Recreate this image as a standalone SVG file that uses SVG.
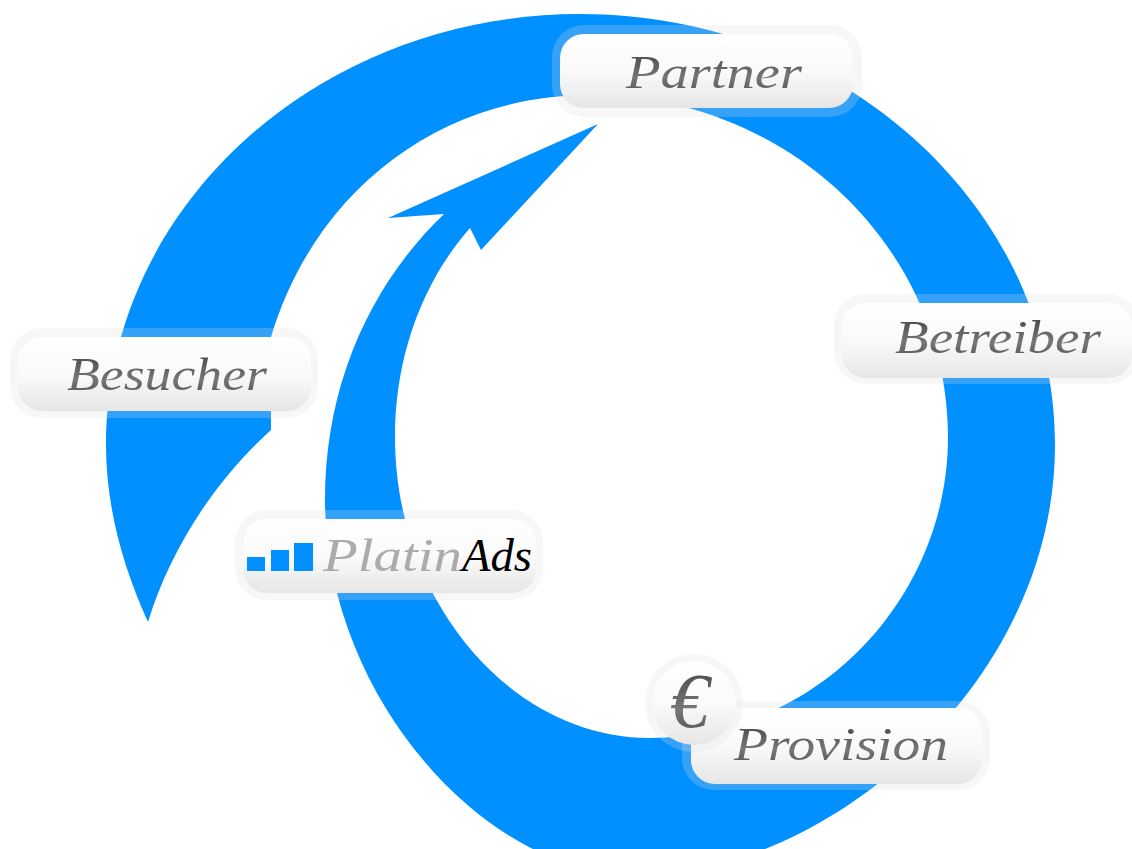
<svg xmlns="http://www.w3.org/2000/svg" width="1132" height="849" viewBox="0 0 1132 849">
<defs>
<linearGradient id="btn" x1="0" y1="0" x2="0" y2="1"><stop offset="0" stop-color="#ffffff"/><stop offset="0.5" stop-color="#fafafa"/><stop offset="1" stop-color="#e6e6e6"/></linearGradient>
<linearGradient id="ink" x1="0" y1="0" x2="0" y2="1"><stop offset="0" stop-color="#3f3f3f"/><stop offset="0.6" stop-color="#777777"/><stop offset="1" stop-color="#4a4a4a"/></linearGradient>
</defs>
<style>
.halo{fill:#dfdfdf;fill-opacity:.24}
.face{fill:url(#btn)}
.label{font-family:"Liberation Serif","Times New Roman",serif;font-style:italic;font-size:46px;fill:url(#ink)}
.logo{font-family:"Liberation Serif","Times New Roman",serif;font-style:italic;font-size:46px}
.euro{font-size:78px}
.bar{fill:#0090ff}
</style>
<g id="connectors">
<path id="cycle-arrow" fill="#0090ff" d="M148,622 C122,565 106,505 106,445 C106,207 318,14 580,14 C842,14 1055,207 1055,445 C1055,683 830,872 640,876 C480,876 325,690 325,500 C325,385 370,285 444,214 L388,218 L598,124 L481,250 L470,228 C420,285 395,360 395,437 C395,600 510,738 650,738 C815,738 948,600 948,437 C948,250 790,95 590,95 C440,95 315,190 271,337 L271,430 C215,480 170,550 148,622 Z"/>
</g>
<g id="node-partner">
<rect class="halo" x="552" y="25" width="310" height="92" rx="32"/>
<rect class="face" x="560" y="34" width="293" height="74" rx="24"/>
<text class="label" x="626" y="88" textLength="176" lengthAdjust="spacingAndGlyphs">Partner</text>
</g>
<g id="node-betreiber">
<rect class="halo" x="834" y="294" width="306" height="90" rx="32"/>
<rect class="face" x="842" y="303" width="290" height="75" rx="24"/>
<text class="label" x="895" y="353" textLength="206" lengthAdjust="spacingAndGlyphs">Betreiber</text>
</g>
<g id="node-besucher">
<rect class="halo" x="10" y="328" width="308" height="90" rx="32"/>
<rect class="face" x="18" y="337" width="293" height="74" rx="24"/>
<text class="label" x="67" y="390" textLength="200" lengthAdjust="spacingAndGlyphs">Besucher</text>
</g>
<g id="node-platinads">
<rect class="halo" x="235" y="510" width="308" height="90" rx="32"/>
<rect class="face" x="243" y="519" width="293" height="74" rx="24"/>
<rect class="bar" x="247" y="557" width="18" height="14"/>
<rect class="bar" x="271" y="550" width="18" height="21"/>
<rect class="bar" x="294" y="543" width="19" height="28"/>
<text class="logo" x="323" y="571" fill="#ababab" textLength="139" lengthAdjust="spacingAndGlyphs">Platin</text>
<text class="logo" x="462" y="571" fill="#000000" textLength="70" lengthAdjust="spacingAndGlyphs">Ads</text>
</g>
<g id="node-provision">
<rect class="halo" x="682" y="701" width="308" height="89" rx="32"/>
<rect class="face" x="691" y="708" width="291" height="76" rx="24"/>
<text class="label" x="734" y="760" textLength="214" lengthAdjust="spacingAndGlyphs">Provision</text>
</g>
<g id="node-euro">
<circle class="halo" cx="694" cy="703" r="49"/>
<circle class="face" cx="694" cy="703" r="42"/>
<text class="label euro" x="670" y="727">€</text>
</g>
</svg>
